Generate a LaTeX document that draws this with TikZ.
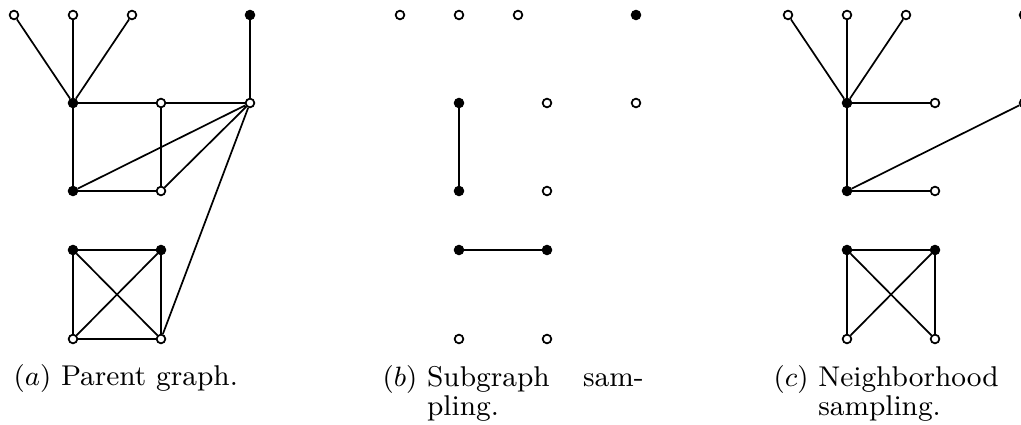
\documentclass[tikz,border=0pt]{standalone}
\begin{document}
\begin{tikzpicture}[x={(0.0113cm,0)},y={(0,-0.0113cm)},
  wn/.style={circle,draw,fill=white,inner sep=0pt,minimum size=2.8pt,line width=0.55pt},
  bn/.style={circle,draw,fill=black,inner sep=0pt,minimum size=2.8pt,line width=0.55pt},
  edge/.style={line width=0.55pt},
  captext/.style={inner sep=0pt,align=left,font=\fontsize{9.2}{9.5}\selectfont}]
\useasboundingbox (0,0) rectangle (1021,425);
% ---------- panel (a) ----------
\node[wn] (aT1) at (14,15) {};
\node[wn] (aT2) at (73,15) {};
\node[wn] (aT3) at (132,15) {};
\node[bn] (aT4) at (250,15) {};
\node[bn] (aM1) at (73,103) {};
\node[wn] (aM2) at (161,103) {};
\node[wn] (aM3) at (250,103) {};
\node[bn] (aL1) at (73,191) {};
\node[wn] (aL2) at (161,191) {};
\node[bn] (aS1) at (73,250) {};
\node[bn] (aS2) at (161,250) {};
\node[wn] (aS3) at (73,339) {};
\node[wn] (aS4) at (161,339) {};
\draw[edge] (aT1)--(aM1) (aT2)--(aM1) (aT3)--(aM1) (aT4)--(aM3)
  (aM1)--(aM2) (aM2)--(aM3) (aM1)--(aL1) (aL1)--(aL2) (aM2)--(aL2)
  (aM3)--(aL1) (aM3)--(aL2) (aM3)--(aS4)
  (aS1)--(aS2) (aS1)--(aS3) (aS2)--(aS4) (aS3)--(aS4) (aS1)--(aS4) (aS2)--(aS3);
% ---------- panel (b) ----------
\node[wn] (bT1) at (400,15) {};
\node[wn] (bT2) at (459,15) {};
\node[wn] (bT3) at (518,15) {};
\node[bn] (bT4) at (636,15) {};
\node[bn] (bM1) at (459,103) {};
\node[wn] (bM2) at (547,103) {};
\node[wn] (bM3) at (636,103) {};
\node[bn] (bL1) at (459,191) {};
\node[wn] (bL2) at (547,191) {};
\node[bn] (bS1) at (459,250) {};
\node[bn] (bS2) at (547,250) {};
\node[wn] (bS3) at (459,339) {};
\node[wn] (bS4) at (547,339) {};
\draw[edge] (bM1)--(bL1) (bS1)--(bS2);
% ---------- panel (c) ----------
\node[wn] (cT1) at (788,15) {};
\node[wn] (cT2) at (847,15) {};
\node[wn] (cT3) at (906,15) {};
\node[bn] (cT4) at (1024,15) {};
\node[bn] (cM1) at (847,103) {};
\node[wn] (cM2) at (935,103) {};
\node[wn] (cM3) at (1024,103) {};
\node[bn] (cL1) at (847,191) {};
\node[wn] (cL2) at (935,191) {};
\node[bn] (cS1) at (847,250) {};
\node[bn] (cS2) at (935,250) {};
\node[wn] (cS3) at (847,339) {};
\node[wn] (cS4) at (935,339) {};
\draw[edge] (cT1)--(cM1) (cT2)--(cM1) (cT3)--(cM1)
  (cM1)--(cM2) (cM1)--(cL1) (cL1)--(cL2) (cL1)--(cM3)
  (cS1)--(cS2) (cS1)--(cS3) (cS2)--(cS4) (cS1)--(cS4) (cS2)--(cS3);
% ---------- captions ----------
\node[captext,anchor=base west] (capa) at (13,386) {$(a)$ Parent graph.};
\node[captext,anchor=base west] (capb) at (382,416)
  {\makebox[84pt][l]{$(b)$ Subgraph\hfill sam-}\\\hphantom{$(b)$\ }pling.};
\node[captext,anchor=base west] (capc) at (773,416)
  {$(c)$ Neighborhood\\\hphantom{$(c)$\ }sampling.};
\end{tikzpicture}
\end{document}
